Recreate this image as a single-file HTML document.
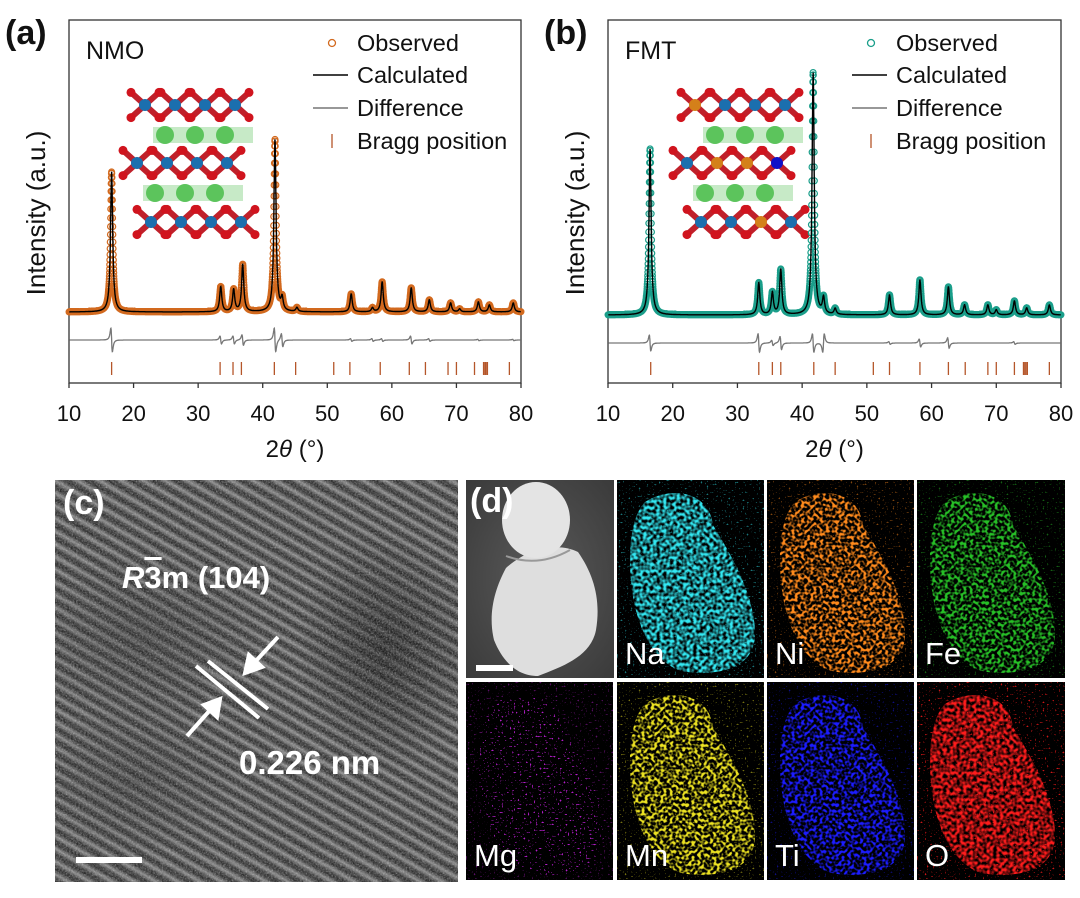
<!DOCTYPE html>
<html><head><meta charset="utf-8"><style>
body{margin:0;background:#fff;width:1080px;height:898px;overflow:hidden;font-family:"Liberation Sans",sans-serif;position:relative}
.abs{position:absolute}
#panelc{left:55px;top:480px;width:403px;height:402px;overflow:hidden;background:#3b3b3b}
.wt{color:#fff;font-weight:bold;position:absolute;white-space:nowrap}
.tile{position:absolute;background:#000;overflow:hidden}
.el{position:absolute;left:8px;bottom:6px;color:#fff;font-size:31px}
</style></head><body>
<svg id="xrd" class="abs" style="left:0;top:0" width="1080" height="470"></svg>

<div id="panelc" class="abs">
 <div class="abs" style="left:0;top:0;width:403px;height:402px;background:repeating-linear-gradient(30deg,#2a2a2a 0px,#333 3px,#777 6px,#858585 7px,#2a2a2a 11px)"></div>
 <div class="abs" style="left:0;top:0;width:403px;height:402px;background:radial-gradient(ellipse 90px 120px at 330px 170px,rgba(20,20,20,.7),rgba(0,0,0,0)),radial-gradient(ellipse 120px 90px at 90px 160px,rgba(40,40,40,.5),rgba(0,0,0,0)),radial-gradient(ellipse 100px 80px at 80px 300px,rgba(40,40,40,.45),rgba(0,0,0,0))"></div>
 <svg class="abs" style="left:0;top:0" width="403" height="402">
  <defs><filter id="nz"><feTurbulence type="fractalNoise" baseFrequency="0.55" numOctaves="2" seed="3"/><feColorMatrix type="matrix" values="0 0 0 0 0.5 0 0 0 0 0.5 0 0 0 0 0.5 0 0 0 1.2 -0.3"/></filter>
  <filter id="nz2"><feTurbulence type="fractalNoise" baseFrequency="0.7" numOctaves="1" seed="9"/><feColorMatrix type="matrix" values="0 0 0 0 1 0 0 0 0 1 0 0 0 0 1 3 0 0 0 -1.6"/></filter></defs>
  <rect width="403" height="402" filter="url(#nz)" opacity="0.55"/>
  <rect width="403" height="402" filter="url(#nz2)" opacity="0.35"/>
  <g stroke="#fff" stroke-width="4">
   <line x1="141" y1="186" x2="204" y2="238"/>
   <line x1="153" y1="181" x2="213" y2="229"/>
  </g>
  <g stroke="#fff" stroke-width="4" fill="#fff">
   <line x1="223" y1="157" x2="199" y2="183"/><polygon points="190,193 194,175 207,187"/>
   <line x1="132" y1="256" x2="156" y2="229"/><polygon points="165,219 162,237 149,225"/>
  </g>
 </svg>
 <div class="wt" style="left:8px;top:4px;font-size:34px;font-weight:bold">(c)</div>
 <div class="wt" style="left:67px;top:80px;font-size:31px"><span style="font-style:italic">R</span><span style="text-decoration:overline">3</span>m (104)</div>
 <div class="wt" style="left:184px;top:264px;font-size:33px">0.226 nm</div>
 <div class="abs" style="left:21px;top:377px;width:66px;height:6px;background:#fff"></div>
</div>

<div id="paneld" class="abs" style="left:466px;top:480px;width:599px;height:400px">
 <svg width="0" height="0" style="position:absolute"><defs>
  <filter id="spk" x="0" y="0" width="1" height="1"><feTurbulence type="fractalNoise" baseFrequency="0.32" numOctaves="1" seed="7" result="n"/><feColorMatrix in="n" type="matrix" values="0 0 0 0 0 0 0 0 0 0 0 0 0 0 0 5 0 0 0 -2.2" result="m"/><feComposite in="SourceGraphic" in2="m" operator="in"/></filter>
  <filter id="spk2" x="0" y="0" width="1" height="1"><feTurbulence type="fractalNoise" baseFrequency="0.5" numOctaves="1" seed="11" result="n"/><feColorMatrix in="n" type="matrix" values="0 0 0 0 0 0 0 0 0 0 0 0 0 0 0 9 0 0 0 -5.8" result="m"/><feComposite in="SourceGraphic" in2="m" operator="in"/></filter>
  <filter id="spk3" x="0" y="0" width="1" height="1"><feTurbulence type="fractalNoise" baseFrequency="0.3" numOctaves="1" seed="5" result="n"/><feColorMatrix in="n" type="matrix" values="0 0 0 0 0 0 0 0 0 0 0 0 0 0 0 3 0 0 0 -1.0" result="m"/><feComposite in="SourceGraphic" in2="m" operator="in"/></filter>
 </defs></svg>
 <div class="tile" style="left:0;top:0;width:148px;height:198px;background:radial-gradient(ellipse at 50% 50%,#5a5a5a,#3a3a3a)">
  <svg width="148" height="198">
   <path d="M40,88 C28,110 22,135 28,160 C36,180 50,196 72,196 C98,186 125,176 130,150 C135,120 128,95 112,72 C92,62 62,68 40,88Z" fill="#dedede"/>
   <ellipse cx="70" cy="40" rx="34" ry="38" fill="#e4e4e4"/>
   <path d="M40,76 Q72,88 104,70" stroke="#999" stroke-width="2" fill="none"/>
   <rect x="10" y="185" width="37" height="6" fill="#fff"/>
  </svg>
  <div class="wt" style="left:4px;top:2px;font-size:34px">(d)</div>
 </div>
 <div id="tiles"></div>
</div>

<script>
// ---------- XRD data ----------
const nmoPeakPos = [16.6,33.5,35.5,36.9,41.9,43.0,45.3,53.7,57.0,58.5,63.0,65.8,69.1,70.5,73.4,75.1,78.8];
const nmoPeakInt = [70,12.5,11,23.5,86,6,2,9,2,15,12,6,4.5,1.5,5,3.5,4.5];
const nmoDiffAmp = [9,3,3,4,9,5,0,1,1,1,3,1,0,0,0.5,0,0.5];
const nmoBragg = [16.6,33.4,35.4,36.7,41.8,45.1,51.0,53.5,58.2,62.7,65.2,68.7,70.0,72.8,74.2,74.4,74.6,74.8,78.2];
const fmtPeakPos = [16.5,33.3,35.4,36.7,41.7,43.3,45.1,53.5,58.2,62.6,65.1,68.7,70.0,72.8,74.7,78.2];
const fmtPeakInt = [83,16,11,22.5,121,8,3,10,17.5,14,5,5,2.5,7,3.5,5];
const fmtDiffAmp = [6,7,2,5,7,-7,0,1,3,4,0,0,0,1,0,0];
const fmtBragg = [16.6,33.3,35.4,36.7,41.8,45.1,51.0,53.5,58.2,62.6,65.2,68.7,70.0,72.8,74.2,74.4,74.6,74.8,78.2];
const xTicks = [10,20,30,40,50,60,70,80];
const legendLabels = ["Observed","Calculated","Difference","Bragg position"];

const NS="http://www.w3.org/2000/svg";
const svg=document.getElementById('xrd');
function mk(tag,attrs,parent){const e=document.createElementNS(NS,tag);for(const k in attrs)e.setAttribute(k,attrs[k]);(parent||svg).appendChild(e);return e;}

function drawInset(g,ox,oy,doped){
  const tmRows=[[0,15],[ -8,73],[6,132]];
  const naRows=[[45,45],[35,103]];
  tmRows.forEach((r,ri)=>{
    for(let i=0;i<4;i++){
      const cx=ox+r[0]+25+i*30, cy=oy+r[1];
      const oc=[[-10,-9],[10,-9],[-10,9],[10,9]];
      oc.forEach(o=>mk('line',{x1:cx,y1:cy,x2:cx+o[0]*1.3,y2:cy+o[1]*1.3,stroke:'#c0202a','stroke-width':6},g));
      oc.forEach(o=>mk('circle',{cx:cx+o[0]*1.4,cy:cy+o[1]*1.4,r:4.5,fill:'#d0141e'},g));
      let col='#1b6fae';
      if(doped&&((ri==0&&i==0)||(ri==1&&(i==1||i==2))||(ri==2&&i==2)))col='#d4801a';
      if(doped&&ri==1&&i==3)col='#1010c8';
      mk('circle',{cx:cx,cy:cy,r:6,fill:col},g);
    }
  });
  naRows.forEach(r=>{
    mk('rect',{x:ox+r[0]-12,y:oy+r[1]-8,width:100,height:16,fill:'#8fd68f',opacity:0.5},g);
    for(let i=0;i<3;i++)mk('circle',{cx:ox+r[0]+i*30,cy:oy+r[1],r:9,fill:'#5cc45c'},g);
  });
}

function drawPanel(o){
  const X=v=>o.x0+(v-10)/70*(o.x1-o.x0);
  const Y=v=>o.base-2*v;
  const w=0.2;
  const calc=x=>{let s=0;for(let i=0;i<o.pos.length;i++){const t=(x-o.pos[i])/w;s+=o.int[i]/(1+t*t);}return s;};
  const diff=x=>{let s=0;for(let i=0;i<o.pos.length;i++){const t=(x-o.pos[i])/w;s+=o.diff[i]*(-2*t)/((1+t*t)*(1+t*t));}return s;};
  const g=mk('g',{});
  
  
  const fr=mk('rect',{x:o.x0,y:20,width:o.x1-o.x0,height:363,fill:'none',stroke:'#333','stroke-width':1.3},g);
  
  
  drawInset(g,o.ix,o.iy,o.doped);
  let d='';const r=3;
  for(let x=10.02;x<79.99;x+=0.02){const yy=Y(calc(x));const xx=X(x);d+=`M${(xx-r).toFixed(1)},${yy.toFixed(1)}a${r},${r} 0 1,0 ${2*r},0a${r},${r} 0 1,0 ${-2*r},0`;}
  const obs=mk('path',{d:d,fill:'none',stroke:o.color,'stroke-width':1.2},g);
  
  
  let c='',df='';
  for(let x=10.05;x<79.99;x+=0.02){c+=(c?'L':'M')+X(x).toFixed(1)+','+Y(calc(x)).toFixed(1);df+=(df?'L':'M')+X(x).toFixed(1)+','+(o.base+28-2*diff(x)).toFixed(1);}
  const cl=mk('path',{d:c,fill:'none',stroke:'#000','stroke-width':1.4},g);
  
  
  const dl=mk('path',{d:df,fill:'none',stroke:'#777','stroke-width':1.3},g);
  
  
  o.bragg.forEach(b=>{
    const t=mk('line',{x1:X(b),x2:X(b),y1:362,y2:375,stroke:'#b5562a','stroke-width':1.3},g);
    
    
  });
  xTicks.forEach(v=>{
    mk('line',{x1:X(v),x2:X(v),y1:383,y2:388,stroke:'#333','stroke-width':1.3},g);
    const t=mk('text',{x:X(v),y:421,'font-size':22,'text-anchor':'middle',fill:'#111'},g);
    t.textContent=v;
    
    
  });
  const xt=mk('text',{x:(o.x0+o.x1)/2,y:457,'font-size':24,'text-anchor':'middle',fill:'#111'},g);
  xt.innerHTML='2<tspan font-style="italic">θ</tspan> (°)';
  
  
  const yt=mk('text',{x:0,y:0,'font-size':26,'text-anchor':'middle',fill:'#111',transform:`translate(${o.x0-24},213) rotate(-90)`},g);
  yt.textContent='Intensity (a.u.)';
  
  
  const pl=mk('text',{x:o.x0-64,y:44,'font-size':34,'font-weight':'bold',fill:'#111'},g);
  pl.textContent=o.label;
  
  
  const sn=mk('text',{x:o.x0+17,y:59,'font-size':25,fill:'#111'},g);
  sn.textContent=o.sample;
  
  
  const lx=o.x0+263, ly=[43,75,108,141];
  mk('circle',{cx:lx,cy:ly[0],r:3.5,fill:'none',stroke:o.color,'stroke-width':1.3},g);
  mk('line',{x1:lx-19,x2:lx+16,y1:ly[1],y2:ly[1],stroke:'#000','stroke-width':1.5},g);
  mk('line',{x1:lx-19,x2:lx+16,y1:ly[2],y2:ly[2],stroke:'#777','stroke-width':1.5},g);
  mk('line',{x1:lx,x2:lx,y1:ly[3]-7,y2:ly[3]+7,stroke:'#b5562a','stroke-width':1.3},g);
  legendLabels.forEach((s,i)=>{
    const t=mk('text',{x:lx+25,y:ly[i]+8,'font-size':23.5,fill:'#111'},g);
    t.textContent=s;
    
    
  });
}
drawPanel({name:'nmo',x0:69,x1:521,base:312,pos:nmoPeakPos,int:nmoPeakInt,diff:nmoDiffAmp,bragg:nmoBragg,color:'#d2691e',label:'(a)',sample:'NMO',ix:120,iy:90,doped:false});
drawPanel({name:'fmt',x0:608,x1:1061,base:315,pos:fmtPeakPos,int:fmtPeakInt,diff:fmtDiffAmp,bragg:fmtBragg,color:'#1a9e8a',label:'(b)',sample:'FMT',ix:670,iy:90,doped:true});

// ---------- EDS tiles ----------
const tileEls=["Na","Ni","Fe","Mg","Mn","Ti","O"];
const tileCols=["#33e8f2","#ff8a1c","#28c028","#b21ec8","#ece222","#1c1cff","#ff1c1c"];
const tilePos=[[151,0],[301,0],[451,0],[0,202],[151,202],[301,202],[451,202]];
const host=document.getElementById('tiles');
tileEls.forEach((el,i)=>{
  const w=i==2||i==6?148:147, h=198;
  const d=document.createElement('div');
  d.className='tile';
  d.style.left=tilePos[i][0]+'px';d.style.top=tilePos[i][1]+'px';d.style.width=w+'px';d.style.height=h+'px';
  
  
  const col=tileCols[i];
  const blob="M28,22 C55,5 92,12 96,45 C112,72 136,110 138,150 C140,186 108,196 70,192 C40,188 20,150 15,110 C10,72 14,36 28,22Z";
  const fil=el=="Mg"?"spk2":(el=="O"||el=="Na"?"spk3":"spk");
  d.innerHTML=`<svg width="${w}" height="${h}"><rect width="${w}" height="${h}" fill="${col}" filter="url(#spk2)" opacity="${el=='O'?0.8:0.5}"/>`+
   `<path d="${blob}" fill="${col}" filter="url(#${fil})"/>`+
   `</svg><div class="el">${el}</div>`;
  host.appendChild(d);
});
</script>
</body></html>
